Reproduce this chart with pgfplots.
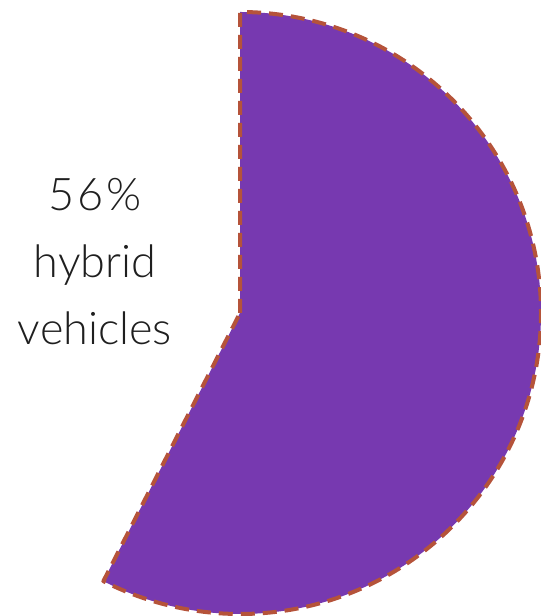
\documentclass[border=0pt]{standalone}
\usepackage{pgfplots}
\pgfplotsset{compat=1.18}
\usepackage{pgfplotstable}
\usepackage{fontspec}
\newfontfamily\lbl{Lato Light}
\definecolor{wedge}{HTML}{7739B0}
\definecolor{edge}{HTML}{B5533A}
\pgfplotstableread{
label value
hybrid 57.5
}\pietable
\pgfplotstablegetelem{0}{value}\of\pietable
\let\pieval\pgfplotsretval
\pgfmathsetmacro{\endang}{90-3.6*\pieval}
\begin{document}
\begin{tikzpicture}
\begin{axis}[
  scale only axis, width=541bp, height=616bp,
  xmin=0, xmax=541, ymin=0, ymax=616,
  hide axis, clip=false,
]
\filldraw[fill=wedge, draw=edge, line width=4bp, dash pattern=on 14bp off 8bp, line join=round]
  (axis cs:240,303) -- (axis cs:240,604) arc[start angle=90, end angle=\endang, radius=301bp] -- cycle;
\node[font=\lbl\fontsize{45bp}{67bp}\selectfont, align=center, text=black!88, inner sep=0pt, anchor=base]
  at (axis cs:95,271) {5\kern3bp6\kern2bp\%\\hybrid\\vehicles};
\end{axis}
\pgfresetboundingbox
\path (current axis.south west) rectangle (current axis.north east);
\end{tikzpicture}
\end{document}
